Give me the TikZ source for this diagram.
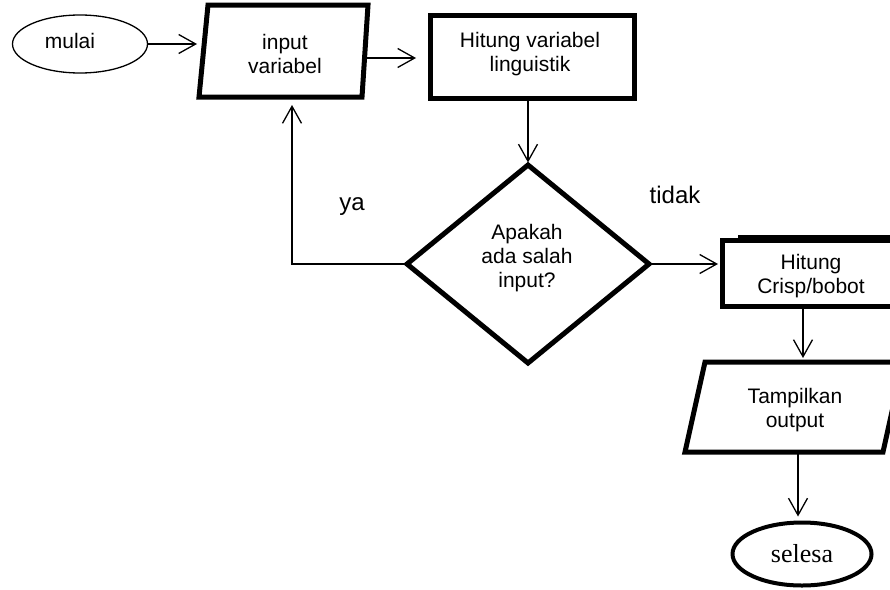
\documentclass[tikz,border=0pt]{standalone}
\usepackage{fontspec}
\setmainfont{Liberation Sans}
\newfontfamily\serifface{Liberation Serif}
\usetikzlibrary{shapes.geometric,arrows.meta}
\begin{document}
\begin{tikzpicture}[x=1pt,y=-1pt,
  conn/.style={line width=1.3pt,-{Straight Barb[length=17pt,width=19pt,line width=1.3pt]}},
  thickbox/.style={draw,line width=5pt,inner sep=0pt,outer sep=0pt},
  lbl/.style={font=\fontsize{21}{24}\selectfont,align=center,inner sep=0pt},
  biglbl/.style={font=\fontsize{24}{28}\selectfont,inner sep=0pt},
]
\useasboundingbox (0,0) rectangle (890,589);

% start
\node[draw,ellipse,line width=1.3pt,minimum width=135pt,minimum height=58pt,inner sep=0pt,outer sep=0pt] (mulai) at (80,44) {};
\node[lbl] (tmulai) at (70,41) {mulai};

% input parallelogram
\draw[line width=5pt] (208,5) -- (368,5) -- (362,97) -- (199,97) -- cycle;
\node[lbl] (inp) at (285,54) {input\\variabel};
\coordinate (inLeft) at (197,44);
\coordinate (inRight) at (366,58);
\coordinate (yaTip) at (292,105);

% hitung variabel
\node[thickbox,rectangle,minimum width=204pt,minimum height=83pt] (hitvar) at (532,56.5) {};
\node[lbl] (thitvar) at (530,54) {Hitung variabel\\linguistik};

% decision
\node[thickbox,diamond,minimum width=242pt,minimum height=198pt] (dia) at (528,264) {};
\node[lbl] (tdia) at (527,258) {Apakah\\ada salah\\input?};

% crisp
\node[thickbox,rectangle,minimum width=178pt,minimum height=66pt] (crisp) at (811,273) {};
\draw[line width=4.5pt] (738,237) -- (900,237);
\node[lbl] (tcrisp) at (811,276) {Hitung\\Crisp/bobot};

% output parallelogram
\draw[line width=5pt] (705,362) -- (903,362) -- (883,452) -- (685,452) -- cycle;
\node[lbl] (tamp) at (795,410) {Tampilkan\\output};
\coordinate (tampTop) at (803,358);
\coordinate (tampBot) at (798,452);

% end
\node[draw,ellipse,line width=4pt,minimum width=139pt,minimum height=63pt,inner sep=0pt,outer sep=0pt,font=\serifface\fontsize{26}{30}\selectfont] (sel) at (802,554) {selesa};

% labels
\node[biglbl] (lya) at (352,207) {ya};
\node[biglbl] (ltidak) at (675,195) {tidak};

% connectors
\draw[conn] (mulai.east) -- (inLeft);
\draw[conn,shorten >=14pt] (inRight) -- (inRight -| hitvar.west);
\draw[conn,shorten >=2.5pt] (dia.north |- hitvar.south) -- (dia.north);
\draw[conn] (dia.west) -| (yaTip);
\draw[conn,shorten >=4pt] (dia.east) -- (dia.east -| crisp.west);
\draw[conn] (crisp.south -| tampTop) -- (tampTop);
\draw[conn,shorten >=6pt] (tampBot) -- (tampBot |- sel.north);
\end{tikzpicture}
\end{document}
